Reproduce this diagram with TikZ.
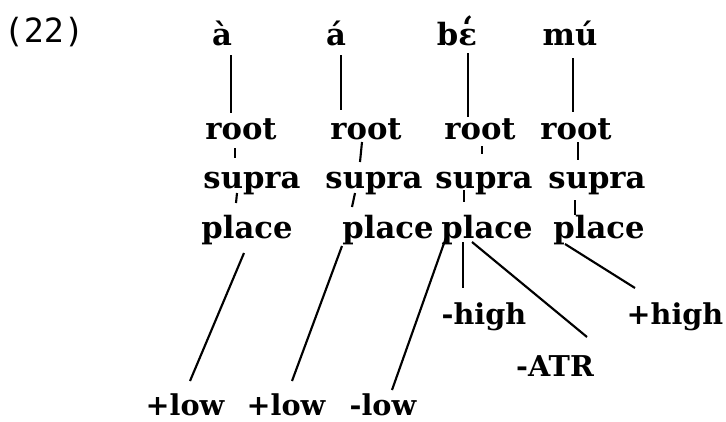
\documentclass[tikz,border=0pt]{standalone}
\usepackage{fontspec}
\setmainfont{DejaVu Serif}
\newfontfamily\exfont{DejaVu Sans Mono}
\usepackage{tikz}
\newcommand{\gravepen}{\ooalign{ɛ\cr\hidewidth\raisebox{0.2em}{\char"60}\hidewidth\cr}}

\begin{document}
\begin{tikzpicture}[
            x = 0.75pt, y = -0.75pt, % pixel grid
            line width = 1.6pt, % line style
            every node/.style={inner sep=0pt, anchor=base},
            seg/.style={font=\bfseries\fontsize{23}{28}\selectfont},
            feat/.style={font=\bfseries\fontsize{21.5}{26}\selectfont}
        ]

        \useasboundingbox (0,0) rectangle (726,422);

        \node (ex) at (44,42) {\exfont\fontsize{25}{30}\selectfont (22)};

        % words
        \node[seg] (wa) at (222,45) {à};
        \node[seg] (wb) at (336,45) {á};
        \node[seg] (wc) at (457,45) {b\gravepen};
        \node[seg] (wd) at (570,45) {mú};

        % tiers
        \node[seg] (ra) at (241,139) {root};
        \node[seg] (rb) at (366,139) {root};
        \node[seg] (rc) at (480,139) {root};
        \node[seg] (rd) at (576,139) {root};

        \node[seg] (sa) at (252,188) {supra};
        \node[seg] (sb) at (374,188) {supra};
        \node[seg] (sc) at (484,188) {supra};
        \node[seg] (sd) at (597,188) {supra};

        \node[seg] (pa) at (247,238) {place};
        \node[seg] (pb) at (388,238) {place};
        \node[seg] (pc) at (487,238) {place};
        \node[seg] (pd) at (599,238) {place};

        % features
        \node[feat] (fa) at (185,415) {+low};
        \node[feat] (fb) at (286,415) {+low};
        \node[feat] (fc) at (383,415) {-low};
        \node[feat] (hc) at (484,324) {-high};
        \node[feat] (tc) at (555,376) {-ATR};
        \node[feat] (hd) at (675,324) {+high};

        \draw ([shift={(9,10)}]wa.base) -- ([shift={(-10,-26)}]ra.base);
        \draw ([shift={(5,10)}]wb.base) -- ([shift={(-25,-29)}]rb.base);
        \draw ([shift={(11,8)}]wc.base) -- ([shift={(-12,-22)}]rc.base);
        \draw ([shift={(3,13)}]wd.base) -- ([shift={(-3,-27)}]rd.base);

        \draw ([shift={(-6,9)}]ra.base) -- ([shift={(-17,-30)}]sa.base);
        \draw ([shift={(-4,3)}]rb.base) -- ([shift={(-14,-26)}]sb.base);
        \draw ([shift={(2,7)}]rc.base) -- ([shift={(-2,-34)}]sc.base);
        \draw ([shift={(2,3)}]rd.base) -- ([shift={(-19,-28)}]sd.base);

        \draw ([shift={(-15,5)}]sa.base) -- ([shift={(-11,-35)}]pa.base);
        \draw ([shift={(-19,5)}]sb.base) -- ([shift={(-36,-31)}]pb.base);
        \draw ([shift={(-20,2)}]sc.base) -- ([shift={(-23,-36)}]pc.base);
        \draw ([shift={(-22,12)}]sd.base) -- ([shift={(-24,-23)}]pd.base);

        \draw ([shift={(-3,15)}]pa.base) -- ([shift={(5,-34)}]fa.base);
        \draw ([shift={(-46,8)}]pb.base) -- ([shift={(6,-34)}]fb.base);
        \draw ([shift={(-39,-6)}]pc.base) -- ([shift={(9,-25)}]fc.base);
        \draw ([shift={(-24,4)}]pc.base) -- ([shift={(-21,-36)}]hc.base);
        \draw ([shift={(-15,4)}]pc.base) -- ([shift={(32,-39)}]tc.base);
        \draw ([shift={(-34,6)}]pd.base) -- ([shift={(-40,-36)}]hd.base);

\end{tikzpicture}
\end{document}
